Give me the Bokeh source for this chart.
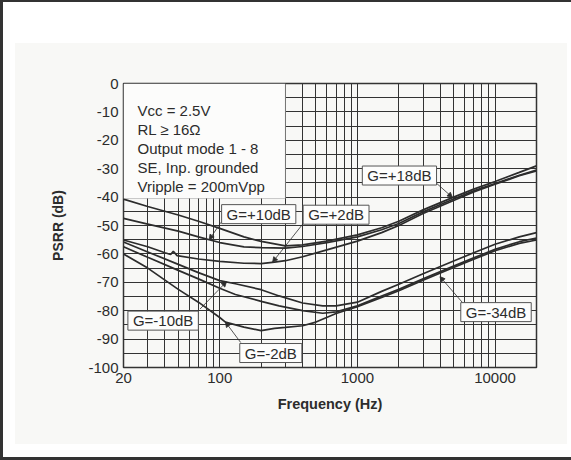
from bokeh.plotting import figure
from bokeh.models import (Range1d, FixedTicker, BoxAnnotation, Label, Arrow,
                          NormalHead)
from bokeh.embed import file_html
from bokeh.resources import INLINE

# ---------------- data ----------------
freq_g18 = [20, 30, 50, 70, 100, 150, 200, 300, 400, 600, 1000, 1500, 2000,
            3000, 5000, 7000, 10000, 15000, 20000]
psrr_g18 = [-40.7, -43.3, -46.3, -48.5, -51.0, -54.0, -55.6, -57.2, -56.8,
            -55.5, -53.3, -50.8, -48.5, -44.5, -40.0, -37.2, -34.5, -31.3, -29.0]

freq_g10 = [20, 30, 50, 70, 100, 150, 200, 300, 400, 600, 1000, 1500, 2000,
            3000, 5000, 7000, 10000, 15000, 20000]
psrr_g10 = [-47.5, -49.5, -52.0, -54.0, -56.0, -57.5, -57.8, -58.0, -57.4,
            -56.0, -54.0, -51.5, -49.3, -45.2, -40.7, -37.8, -35.2, -32.3, -30.5]

freq_g2 = [20, 30, 40, 44, 46, 49, 70, 100, 150, 200, 250, 300, 400, 600, 1000,
           1500, 2000, 3000, 5000, 7000, 10000, 15000, 20000]
psrr_g2 = [-55.1, -57.5, -59.6, -60.2, -59.1, -60.6, -61.8, -62.6, -63.3, -63.4,
           -62.9, -62.4, -61.0, -58.6, -55.5, -52.5, -50.0, -45.8, -41.2, -38.2,
           -35.5, -32.5, -30.8]

freq_gm10 = [20, 30, 50, 70, 100, 130, 200, 270, 400, 560, 700, 1000, 1500,
             2000, 3000, 5000, 7000, 10000, 15000, 20000]
psrr_gm10 = [-55.8, -59.3, -63.7, -66.6, -69.4, -70.5, -72.6, -74.8, -77.3,
             -78.3, -78.3, -77.0, -73.2, -70.7, -67.0, -62.5, -59.6, -56.6,
             -54.0, -52.5]

freq_gm34 = [20, 30, 50, 70, 100, 130, 200, 270, 400, 560, 700, 1000, 1500,
             2000, 3000, 5000, 7000, 10000, 15000, 20000]
psrr_gm34 = [-57.5, -61.2, -65.8, -68.8, -72.1, -74.3, -76.7, -78.3, -80.0,
             -80.9, -80.4, -78.3, -74.8, -72.5, -68.8, -64.3, -61.4, -58.4,
             -55.7, -54.4]

freq_gm2 = [20, 30, 50, 70, 100, 110, 150, 200, 250, 300, 400, 500, 700, 1000,
            1500, 2000, 3000, 5000, 7000, 10000, 15000, 20000]
psrr_gm2 = [-60.0, -65.0, -72.5, -77.0, -82.4, -84.0, -85.8, -87.0, -86.2,
            -85.9, -85.3, -84.0, -81.0, -78.6, -75.3, -73.0, -69.3, -64.8,
            -61.9, -58.9, -56.3, -55.1]

x_major_ticks = [20, 100, 1000, 10000]
x_tick_labels = ["20", "100", "1000", "10000"]
x_minor_ticks = [30, 40, 50, 60, 70, 80, 90, 200, 300, 400, 500, 600, 700, 800,
                 900, 2000, 3000, 4000, 5000, 6000, 7000, 8000, 9000]
y_major_ticks = [0, -10, -20, -30, -40, -50, -60, -70, -80, -90, -100]
y_tick_labels = ["0", "-10", "-20", "-30", "-40", "-50", "-60", "-70", "-80",
                 "-90", "-100"]
y_minor_ticks = [-5, -15, -25, -35, -45, -55, -65, -75, -85, -95]

conditions = ["Vcc = 2.5V", "RL \u2265 16\u03a9", "Output mode 1 - 8",
              "SE, Inp. grounded", "Vripple = 200mVpp"]

gain_labels = ["G=+18dB", "G=+10dB", "G=+2dB", "G=-10dB", "G=-2dB", "G=-34dB"]

FONT = "Liberation Sans"
INK = "#2c2c2c"
PANEL = "#f8f8f6"

W, H = 571, 460
p = figure(width=W, height=H, x_axis_type="log",
           x_range=Range1d(20, 20000), y_range=Range1d(-100, 0),
           output_backend="svg", toolbar_location=None,
           min_border_left=123, min_border_right=35,
           min_border_top=83, min_border_bottom=93,
           background_fill_color=PANEL, border_fill_color=None)

# grey panel on white page with dark outer frame lines (drawn by CSS behind
# the transparent border area of the canvas)
p.styles = {
    "background": (f"linear-gradient({PANEL}, {PANEL}) 15px 43px / 552px 401px "
                   "no-repeat, #ffffff"),
    "box-shadow": "inset 3px 2px 0 #333333, inset 0 -3px 0 #333333",
}

p.outline_line_color = "#333333"
p.outline_line_width = 1.5

xt = FixedTicker(ticks=x_major_ticks, minor_ticks=x_minor_ticks)
yt = FixedTicker(ticks=y_major_ticks, minor_ticks=y_minor_ticks)
p.xaxis.ticker = xt
p.yaxis.ticker = yt
p.xgrid.ticker = xt
p.ygrid.ticker = yt
for g in (p.xgrid, p.ygrid):
    g.grid_line_color = "#333333"
    g.grid_line_width = 1
    g.minor_grid_line_color = "#333333"
    g.minor_grid_line_width = 1

p.xaxis.major_label_overrides = {v: s for v, s in zip(x_major_ticks, x_tick_labels)}
p.yaxis.major_label_overrides = {v: s for v, s in zip(y_major_ticks, y_tick_labels)}

for ax in (p.xaxis, p.yaxis):
    ax.axis_line_color = None
    ax.major_tick_line_color = None
    ax.minor_tick_line_color = None
    ax.major_tick_out = 0
    ax.major_tick_in = 0
    ax.minor_tick_out = 0
    ax.minor_tick_in = 0
    ax.major_label_text_font = FONT
    ax.major_label_text_font_size = "15px"
    ax.major_label_text_color = INK
    ax.major_label_standoff = 5
    ax.axis_label_text_font = FONT
    ax.axis_label_text_font_style = "bold"
    ax.axis_label_text_color = INK

p.xaxis.axis_label = "Frequency (Hz)"
p.xaxis.axis_label_text_font_size = "14.5px"
p.xaxis.axis_label_standoff = 10
p.yaxis.axis_label = "PSRR (dB)"
p.yaxis.axis_label_text_font_size = "14px"
p.yaxis.axis_label_standoff = 19

series = [(freq_g18, psrr_g18), (freq_g10, psrr_g10), (freq_g2, psrr_g2),
          (freq_gm10, psrr_gm10), (freq_gm34, psrr_gm34), (freq_gm2, psrr_gm2)]
for fx, fy in series:
    p.line(fx, fy, line_color=INK, line_width=1.7)

# conditions box (aligned with the 300 Hz / -40.5 dB grid)
p.add_layout(BoxAnnotation(left=20, right=300, top=0, bottom=-40.5,
                           fill_color="#fcfcfb", fill_alpha=1,
                           line_color="#555555", line_width=1))
cond_y = [-9.6, -16.3, -23.0, -29.7, -36.4]
for txt, yy in zip(conditions, cond_y):
    p.add_layout(Label(x=20, y=yy, x_offset=14, text=txt,
                       text_font=FONT, text_font_size="15px",
                       text_color=INK, text_baseline="alphabetic",
                       text_align="left"))

label_pos = [(2020, -32.4), (192, -46.0), (700, -46.2), (38.8, -83.5),
             (235, -94.9), (10160, -80.5)]
arrow_start = [(3770, -35.2), (102, -48.9), (410, -48.9), (72, -79.4),
               (142, -91.2), (5790, -77.1)]
arrow_tip = [(4900, -40.1), (84, -55.0), (242, -62.9), (112, -69.8),
             (110, -84.0), (3980, -68.0)]

for (sx, sy), (ex, ey) in zip(arrow_start, arrow_tip):
    p.add_layout(Arrow(x_start=sx, y_start=sy, x_end=ex, y_end=ey,
                       line_color=INK, line_width=0.8,
                       end=NormalHead(size=5, fill_color=INK, line_color=INK,
                                      line_width=0.8)))

for txt, (lx, ly) in zip(gain_labels, label_pos):
    p.add_layout(Label(x=lx, y=ly, text=txt, text_font=FONT,
                       text_font_size="15px", text_color=INK,
                       text_align="center", text_baseline="middle",
                       background_fill_color="#fdfdfc", background_fill_alpha=1,
                       border_line_color="#555555", border_line_width=1,
                       padding=dict(left=5, right=5, top=1, bottom=1)))

open("out.html", "w").write(file_html(p, INLINE))
